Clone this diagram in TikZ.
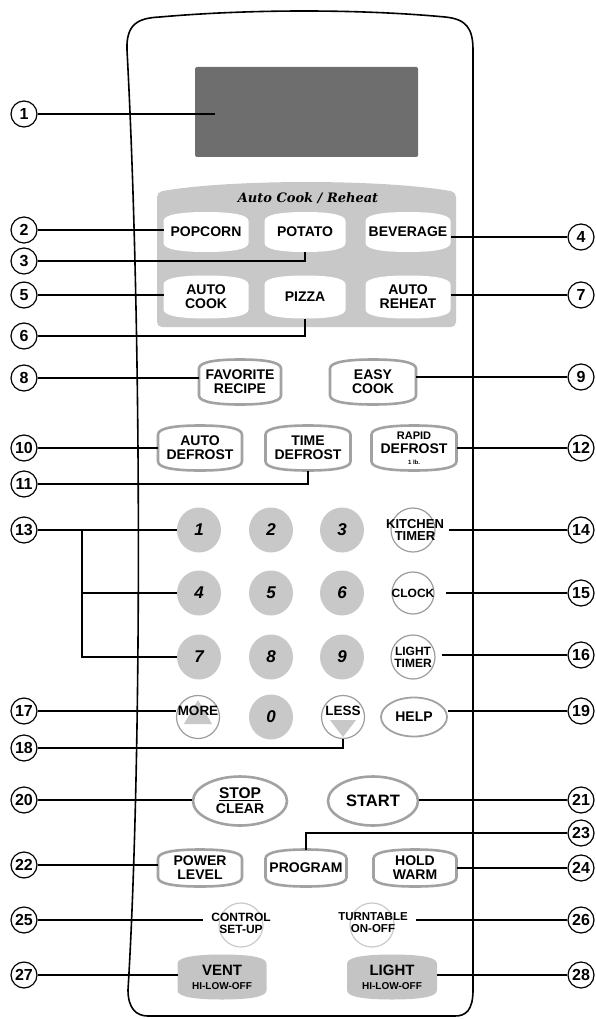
\documentclass[tikz,border=0pt]{standalone}
\usepackage{fontspec}
\setmainfont{Liberation Sans}
\newfontfamily\titlefont{DejaVu Serif}
\usetikzlibrary{shapes.geometric}

\definecolor{dispgray}{HTML}{6E6E6E}
\definecolor{panelgray}{HTML}{C8C8C8}
\definecolor{keygray}{HTML}{C8C8C8}
\definecolor{rimgray}{HTML}{A2A2A2}
\definecolor{ringgray}{HTML}{9C9C9C}
\definecolor{ventgray}{HTML}{C4C4C4}
\definecolor{faintgray}{HTML}{CACACA}

% soft key outline: straight sides, domed top and bottom
\makeatletter
\pgfdeclareshape{cushion}{%
  \inheritsavedanchors[from=rectangle]%
  \inheritanchorborder[from=rectangle]%
  \inheritanchor[from=rectangle]{center}%
  \inheritanchor[from=rectangle]{north}%
  \inheritanchor[from=rectangle]{south}%
  \inheritanchor[from=rectangle]{east}%
  \inheritanchor[from=rectangle]{west}%
  \inheritanchor[from=rectangle]{base}%
  \backgroundpath{%
    \southwest\edef\cshxa{\the\pgf@x}\edef\cshya{\the\pgf@y}%
    \northeast\edef\cshxb{\the\pgf@x}\edef\cshyb{\the\pgf@y}%
    \pgfmathsetmacro\cshw{(\cshxb-\cshxa)/4}%
    \pgfmathsetmacro\cshm{(\cshxb+\cshxa)/2}%
    \def\cshk{9pt}%
    \pgfpathmoveto{\pgfpoint{\cshxa}{\cshya+\cshk}}%
    \pgfpathlineto{\pgfpoint{\cshxa}{\cshyb-\cshk}}%
    \pgfpathcurveto{\pgfpoint{\cshxa}{\cshyb-0.2*\cshk}}{\pgfpoint{\cshxa+\cshw pt}{\cshyb}}{\pgfpoint{\cshm pt}{\cshyb}}%
    \pgfpathcurveto{\pgfpoint{\cshxb-\cshw pt}{\cshyb}}{\pgfpoint{\cshxb}{\cshyb-0.2*\cshk}}{\pgfpoint{\cshxb}{\cshyb-\cshk}}%
    \pgfpathlineto{\pgfpoint{\cshxb}{\cshya+\cshk}}%
    \pgfpathcurveto{\pgfpoint{\cshxb}{\cshya+0.2*\cshk}}{\pgfpoint{\cshxb-\cshw pt}{\cshya}}{\pgfpoint{\cshm pt}{\cshya}}%
    \pgfpathcurveto{\pgfpoint{\cshxa+\cshw pt}{\cshya}}{\pgfpoint{\cshxa}{\cshya+0.2*\cshk}}{\pgfpoint{\cshxa}{\cshya+\cshk}}%
    \pgfpathclose
  }%
}
\makeatother

\newcommand\keyfont{\fontsize{14}{14}\selectfont\bfseries}
\newcommand\smallkeyfont{\fontsize{12}{12}\selectfont\bfseries}

\tikzset{
  numtag/.style={circle, draw, line width=1.2pt, minimum size=26pt, inner sep=0pt,
    font=\fontsize{16}{16}\selectfont\bfseries},
  softkey/.style={shape=cushion, fill=white, inner sep=0pt, outer sep=0pt, align=center, font=\keyfont},
  rimkey/.style={softkey, draw=rimgray, line width=2.6pt},
  flatkey/.style={softkey, fill=ventgray, font=\fontsize{15}{14}\selectfont\bfseries},
  numkey/.style={ellipse, fill=keygray, minimum width=44pt, minimum height=45pt, inner sep=0pt,
    font=\fontsize{17}{17}\selectfont\bfseries\itshape},
  ring/.style={circle, draw=ringgray, line width=1.2pt, fill=white, minimum size=44pt, inner sep=0pt},
  faintring/.style={ring, draw=faintgray},
  ovalkey/.style={ellipse, draw=rimgray, line width=2.6pt, fill=white, inner sep=0pt, align=center, font=\keyfont},
  keylbl/.style={inner sep=0pt, outer sep=0pt, align=center, font=\smallkeyfont},
  lead/.style={line width=1.1pt},
}

\begin{document}
\begin{tikzpicture}[x=1pt, y=-1pt]
\useasboundingbox (0,0) rectangle (596,1019);

% Panel outline
\draw[line width=1.6pt] (128,990) .. controls (142,760) and (142,330) .. (127,50)
  .. controls (126,24) and (138,18) .. (160,17) .. controls (250,9) and (360,9) .. (445,17)
  .. controls (466,19) and (473,28) .. (473,50) -- (473,990)
  .. controls (473,1010) and (466,1016) .. (455,1016) -- (148,1016)
  .. controls (136,1016) and (128,1008) .. (128,990) -- cycle;

% Display
\node[fill=dispgray, minimum width=223pt, minimum height=90pt, inner sep=0pt, rounded corners=1.5pt] (disp) at (306.5,112) {};
\coordinate (dspot) at (215,114);

% Auto cook / reheat area
\fill[panelgray, rounded corners=5pt] (157,327) -- (157,192) .. controls (230,179) and (383,179) .. (456,192) -- (456,327) -- cycle;
\node[font=\titlefont\fontsize{13}{13}\selectfont\bfseries\itshape] (acr) at (308,198) {Auto Cook / Reheat};

\node[softkey, minimum width=85pt, minimum height=40pt] (pop) at (206,232) {POPCORN};
\node[softkey, minimum width=81pt, minimum height=40pt] (pot) at (305,232) {POTATO};
\node[softkey, minimum width=85pt, minimum height=40pt] (bev) at (408,232) {BEVERAGE};
\node[softkey, minimum width=85pt, minimum height=43pt] (acook) at (206,297) {AUTO\\COOK};
\node[softkey, minimum width=81pt, minimum height=43pt] (pizza) at (305,297) {PIZZA};
\node[softkey, minimum width=85pt, minimum height=43pt] (areheat) at (408,297) {AUTO\\REHEAT};

% Outlined keys
\node[rimkey, minimum width=82pt, minimum height=45pt] (fav) at (240,382) {FAVORITE\\RECIPE};
\node[rimkey, minimum width=86pt, minimum height=45pt] (easy) at (373,382) {EASY\\COOK};
\node[rimkey, minimum width=84pt, minimum height=45pt] (adef) at (200,448) {AUTO\\DEFROST};
\node[rimkey, minimum width=85pt, minimum height=45pt] (tdef) at (308,448) {TIME\\DEFROST};
\node[rimkey, minimum width=85pt, minimum height=45pt] (rdef) at (414,448)
  {{\fontsize{11}{11}\selectfont RAPID}\\DEFROST\\[-3pt]{\fontsize{6}{6}\selectfont 1 lb.}};

% Number pad
\foreach \d/\x/\y in {1/199/530, 2/271/530, 3/342/530, 4/199/593, 5/271/593, 6/342/593,
                      7/199/657, 8/271/657, 9/342/657, 0/271/717}
  \node[numkey] (k\d) at (\x,\y) {\d};

\node[ring] (ktimer) at (413,530) {};
\node[keylbl, font=\fontsize{13}{12.5}\selectfont\bfseries] (ktimerlbl) at (415,530) {KITCHEN\\TIMER};
\node[ring, minimum size=42pt] (clock) at (413,593) {};
\node[keylbl] (clocklbl) at (413,593) {CLOCK};
\node[ring] (ltimer) at (413,657) {};
\node[keylbl] (ltimerlbl) at (413,657) {LIGHT\\TIMER};

% More / less
\node[ring, minimum size=43pt] (more) at (198,717) {};
\fill[keygray] (198,700) -- (212,724) -- (184,724) -- cycle;
\node[keylbl, font=\fontsize{13.5}{13.5}\selectfont\bfseries] (morelbl) at (198,711) {MORE};
\node[ring, minimum size=43pt] (less) at (343,717) {};
\fill[keygray] (330,720) -- (356,720) -- (343,737) -- cycle;
\node[keylbl, font=\fontsize{13.5}{13.5}\selectfont\bfseries] (lesslbl) at (343,711) {LESS};
\node[ovalkey, minimum width=66pt, minimum height=39pt, line width=1.8pt] (help) at (414,717) {HELP};

% Stop / start
\node[ovalkey, minimum width=94pt, minimum height=49pt, font=\fontsize{15.5}{15}\selectfont\bfseries] (stop) at (240,801)
  {\underline{STOP}\\{\fontsize{14}{14}\selectfont CLEAR}};
\node[ovalkey, minimum width=90pt, minimum height=49pt, font=\fontsize{16.5}{16}\selectfont\bfseries] (start) at (373,801) {START};

\node[rimkey, minimum width=84pt, minimum height=37pt] (power) at (200,868) {POWER\\LEVEL};
\node[rimkey, minimum width=81pt, minimum height=37pt] (prog) at (306,868) {PROGRAM};
\node[rimkey, minimum width=83pt, minimum height=37pt] (hold) at (415,868) {HOLD\\WARM};

\node[faintring] (setup) at (241,925) {};
\node[keylbl] (setuplbl) at (241,923) {CONTROL\\SET-UP};
\node[faintring] (turn) at (372,925) {};
\node[keylbl, font=\fontsize{11.5}{12}\selectfont\bfseries] (turnlbl) at (373,923) {TURNTABLE\\ON-OFF};

\node[flatkey, minimum width=89pt, minimum height=45pt] (vent) at (222,977)
  {VENT\\{\fontsize{10}{10}\selectfont HI-LOW-OFF}};
\node[flatkey, minimum width=90pt, minimum height=45pt] (light) at (392,977)
  {LIGHT\\{\fontsize{10}{10}\selectfont HI-LOW-OFF}};

% Callout numbers
\foreach \n/\y in {1/114, 2/230, 3/261, 5/295, 6/336, 8/378, 10/448, 11/484, 13/530,
                   17/711, 18/748, 20/800, 22/865, 25/920, 27/975}
  \node[numtag] (c\n) at (24,\y) {\n};
\foreach \n/\y in {4/237, 7/295, 9/377, 12/448, 14/530, 15/593, 16/655, 19/711,
                   21/800, 23/833, 24/868, 26/920, 28/975}
  \node[numtag] (c\n) at (581,\y) {\n};

% Leader lines
\draw[lead] (c1) -- (dspot);
\foreach \n/\b in {2/pop, 5/acook, 8/fav, 10/adef, 17/more, 20/stop, 22/power, 27/vent}
  \draw[lead] (c\n) -- (c\n -| \b.west);
\foreach \n/\b in {4/bev, 7/areheat, 9/easy, 12/rdef, 19/help, 21/start, 24/hold, 28/light}
  \draw[lead] (c\n) -- (c\n -| \b.east);
\foreach \n/\b in {3/pot, 6/pizza, 11/tdef, 18/less}
  \draw[lead] (c\n) -| (\b.south);
\draw[lead] (c23) -| (prog.north);

\coordinate (fork) at (82,530);
\draw[lead] (c13) -- (k1);
\draw[lead] (fork) |- (k4);
\draw[lead] (fork) |- (k7);

\draw[lead, shorten >=5pt] (c14) -- (c14 -| ktimerlbl.east);
\draw[lead, shorten >=11pt] (c15) -- (c15 -| clock.east);
\draw[lead, shorten >=6pt] (c16) -- (c16 -| ltimer.east);
\draw[lead, shorten >=8pt] (c25) -- (c25 -| setuplbl.west);
\draw[lead, shorten >=8pt] (c26) -- (c26 -| turnlbl.east);

\end{tikzpicture}
\end{document}
